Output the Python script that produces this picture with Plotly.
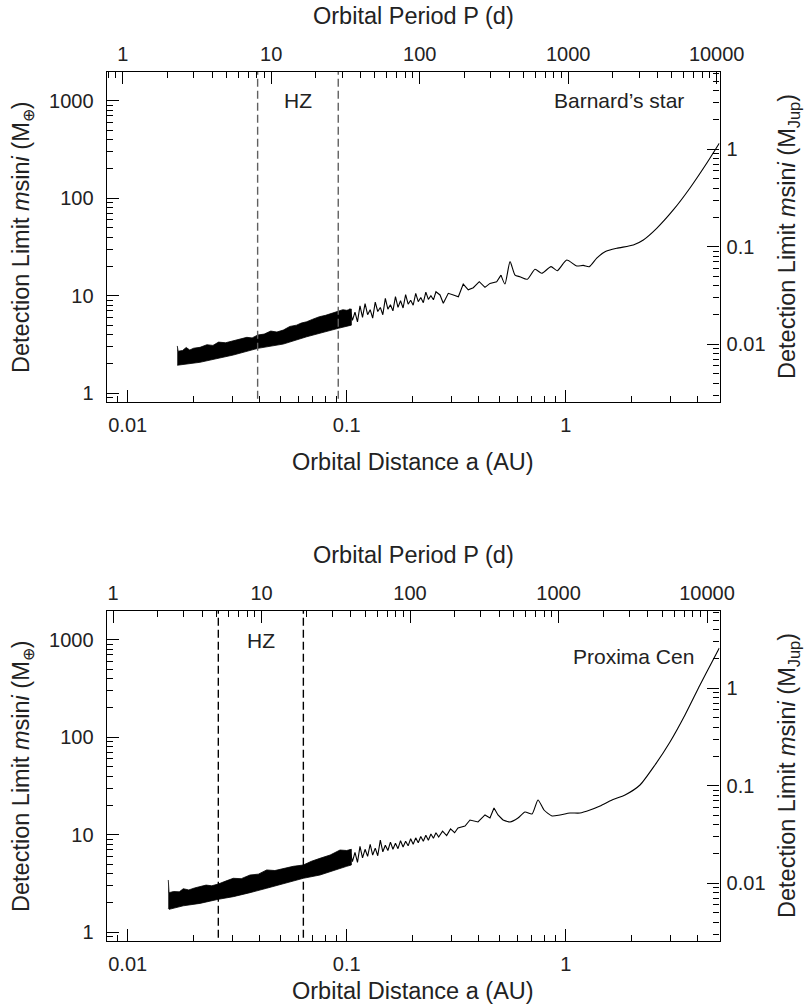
import plotly.graph_objects as go

W, H = 806, 1004

# ---------------- data ----------------
# Barnard's star: dense noisy band (upper / lower envelopes), a in AU, M in Earth masses
BARNARD_BAND_A_UP = [0.01684, 0.01700, 0.01780, 0.01850, 0.01920, 0.02000, 0.02138, 0.02300,
                     0.02450, 0.02600, 0.02800, 0.03035, 0.03250, 0.03500, 0.03700, 0.03924,
                     0.04200, 0.04500, 0.04800, 0.05134, 0.05500, 0.05900, 0.06200, 0.06567,
                     0.07000, 0.07500, 0.08000, 0.08500, 0.09154, 0.09600, 0.10000, 0.10500]
BARNARD_BAND_M_UP = [3.06, 2.70, 2.75, 2.95, 2.78, 2.90, 2.96, 3.15,
                     3.10, 3.35, 3.30, 3.45, 3.55, 3.75, 3.70, 3.96,
                     4.05, 4.35, 4.25, 4.45, 4.85, 5.00, 5.25, 5.42,
                     5.75, 6.10, 6.30, 6.60, 6.87, 7.20, 7.10, 7.30]
BARNARD_BAND_A_LO = [0.01684, 0.01700, 0.02138, 0.03035, 0.03924, 0.05134, 0.06567, 0.09154,
                     0.10000, 0.10500]
BARNARD_BAND_M_LO = [1.94, 1.92, 2.08, 2.47, 2.89, 3.20, 3.80, 4.64, 4.90, 5.00]

BARNARD_LINE_A = [0.098, 0.1007, 0.1034, 0.1062, 0.1091, 0.112, 0.115, 0.1181, 0.1213, 0.1246,
                  0.128, 0.1314, 0.135, 0.1386, 0.1424, 0.1462, 0.1501, 0.1542, 0.1584, 0.1626,
                  0.167, 0.1715, 0.1761, 0.1809, 0.1858, 0.1908, 0.1959, 0.2012, 0.2066, 0.2122,
                  0.2179, 0.2238, 0.2298, 0.236, 0.2424, 0.2489, 0.2556,
                  0.2667, 0.2761, 0.291, 0.307, 0.3235,
                  0.3405, 0.359, 0.3785, 0.403, 0.428, 0.451, 0.484, 0.5065, 0.528, 0.557,
                  0.587, 0.618, 0.668, 0.7244, 0.777, 0.857, 0.915, 1.011, 1.122, 1.203,
                  1.282, 1.386, 1.512, 1.71, 2.036, 2.262, 2.603, 3.099, 3.695, 4.404, 5.028]
BARNARD_LINE_M = [6.2, 5.1, 7.4, 5.6, 6.8, 5.4, 7.9, 6.0, 8.3, 6.4,
                  7.2, 5.9, 8.6, 6.9, 7.6, 6.4, 9.4, 7.3, 8.1, 7.0,
                  9.8, 7.6, 8.9, 7.5, 10.3, 8.2, 9.0, 8.0, 10.6, 8.7,
                  9.6, 8.5, 10.9, 9.2, 10.0, 9.1, 11.0,
                  10.2, 8.38, 10.6, 10.2, 9.79,
                  13.2, 11.5, 12.1, 13.95, 12.2, 13.4, 13.95, 16.3, 13.2, 22.4,
                  16.3, 15.7, 14.8, 18.7, 17.0, 19.9, 18.1, 23.3, 20.2, 20.5,
                  19.9, 24.3, 28.3, 30.7, 33.2, 37.4, 49.2, 75.9, 127.6, 228.5, 366.6]
BARNARD_HZ = [0.0392, 0.0915]

# Proxima Cen
PROXIMA_BAND_A_UP = [0.01532, 0.01545, 0.01620, 0.01720, 0.01794, 0.01900, 0.02020, 0.02138,
                     0.02280, 0.02420, 0.02593, 0.02800, 0.03035, 0.03300, 0.03618, 0.03950,
                     0.04311, 0.04700, 0.05134, 0.05700, 0.06334, 0.06900, 0.07551, 0.08400,
                     0.09320, 0.10000, 0.10500]
PROXIMA_BAND_M_UP = [3.44, 2.55, 2.62, 2.60, 2.80, 2.72, 2.85, 2.94,
                     3.05, 3.00, 3.13, 3.35, 3.58, 3.55, 3.87, 3.95,
                     4.36, 4.30, 4.53, 4.75, 4.90, 5.35, 5.74, 6.20,
                     6.98, 6.90, 7.10]
PROXIMA_BAND_A_LO = [0.01532, 0.01545, 0.01794, 0.02138, 0.02593, 0.03035, 0.03618, 0.04311,
                     0.05134, 0.06334, 0.07551, 0.09320, 0.10000, 0.10500]
PROXIMA_BAND_M_LO = [1.76, 1.72, 1.87, 1.98, 2.18, 2.32, 2.55, 2.83,
                     3.13, 3.58, 3.87, 4.53, 4.75, 4.90]

PROXIMA_LINE_A = [0.098, 0.1007, 0.1034, 0.1062, 0.1091, 0.112, 0.115, 0.1181, 0.1213, 0.1246,
                  0.128, 0.1314, 0.135, 0.1386, 0.1424, 0.1462, 0.1501, 0.1542, 0.1584, 0.1626,
                  0.167, 0.1715, 0.1761, 0.1809, 0.1858, 0.1908, 0.1959, 0.2012, 0.2066, 0.2122,
                  0.2179, 0.2238, 0.2298, 0.236, 0.2424, 0.2489, 0.2556, 0.263, 0.274, 0.286,
                  0.298, 0.311,
                  0.3222, 0.3469, 0.3656, 0.3977, 0.428, 0.4511, 0.4706, 0.4907, 0.5172, 0.5568,
                  0.6056, 0.6518, 0.7018, 0.7473, 0.7961, 0.866, 0.9419, 1.046, 1.162, 1.291,
                  1.435, 1.627, 1.866, 2.184, 2.557, 2.994, 3.505, 4.104, 4.656, 5.028]
PROXIMA_LINE_M = [6.0, 4.9, 7.0, 5.3, 6.6, 5.2, 7.6, 5.8, 7.1, 6.0,
                  8.0, 6.2, 7.3, 6.1, 8.8, 6.7, 7.8, 6.9, 8.4, 7.1,
                  8.2, 7.2, 8.7, 7.5, 8.6, 7.7, 9.1, 8.0, 9.3, 8.3,
                  9.6, 8.6, 9.9, 8.8, 10.2, 9.2, 10.5, 9.5, 10.9, 9.8,
                  11.5, 10.5,
                  11.74, 12.31, 14.18, 13.53, 15.97, 14.87, 18.83, 15.97, 14.18, 13.53,
                  14.87, 17.13, 16.34, 22.75, 17.96, 15.59, 15.97, 16.73, 16.73, 17.96,
                  19.74, 22.75, 25.6, 32.4, 52.0, 89.5, 169.3, 343.9, 592, 824]
PROXIMA_HZ = [0.02593, 0.0634]

# tick labels
A_TICKS = [0.01, 0.1, 1]
A_TICKTEXT = ["0.01", "0.1", "1"]
P_TICKS = [1, 10, 100, 1000, 10000]
P_TICKTEXT = ["1", "10", "100", "1000", "10000"]
ME_TICKS = [1, 10, 100, 1000]
ME_TICKTEXT = ["1", "10", "100", "1000"]
MJ_TICKS = [0.01, 0.1, 1]
MJ_TICKTEXT = ["0.01", "0.1", "1"]

# ---------------- styling / layout ----------------
FONT = "Liberation Sans, Arial, Helvetica, sans-serif"
TXT = "#222222"
TICK_SIZE = 20
TITLE_SIZE = 23.5
SMOOTH_FROM = 0.5  # curve drawn smoothly beyond this distance

A_RANGE = [-2.0959, 0.7023]
ME_RANGE = [-0.086, 3.298]
MJ_RANGE = [ME_RANGE[0] - 2.5022, ME_RANGE[1] - 2.5022]   # 1 M_Jup = 317.8 M_Earth
P_RANGE_TOP = [-0.1077, 4.0189]
P_RANGE_BOT = [-0.0424, 4.084]

X_DOM = [106.7 / W, 719.5 / W]
TOP_DOM = [1 - 401.7 / H, 1 - 71.7 / H]
BOT_DOM = [1 - 940.7 / H, 1 - 610.7 / H]


def minor_vals(e0, e1):
    return [m * 10 ** e for e in range(e0, e1) for m in range(2, 10)]


def axis(rng, tickvals, ticktext, minor, side, **kw):
    d = dict(
        type="log", range=rng, side=side,
        tickmode="array", tickvals=tickvals, ticktext=ticktext,
        ticks="inside", ticklen=12, tickwidth=1, tickcolor="black",
        showline=True, linecolor="black", linewidth=1.2, mirror=False,
        showgrid=False, zeroline=False, automargin=False,
        tickfont=dict(family=FONT, size=TICK_SIZE, color=TXT),
        minor=dict(tickmode="array", tickvals=minor, ticks="inside", ticklen=6,
                   tickwidth=1, tickcolor="black", showgrid=False),
        fixedrange=True,
    )
    d.update(kw)
    return d


fig = go.Figure()


def add_panel(xa, ya, xa2, ya2, band_a_up, band_m_up, band_a_lo, band_m_lo,
              line_a, line_m, hz, hz_color):
    fig.add_trace(go.Scatter(
        x=band_a_up + band_a_lo[::-1], y=band_m_up + band_m_lo[::-1],
        fill="toself", fillcolor="black", mode="lines",
        line=dict(color="black", width=0.8), xaxis=xa, yaxis=ya,
        hoverinfo="skip", showlegend=False))
    k = next(i for i, a in enumerate(line_a) if a >= SMOOTH_FROM)
    fig.add_trace(go.Scatter(
        x=line_a[:k + 1], y=line_m[:k + 1], mode="lines",
        line=dict(color="black", width=1.1),
        xaxis=xa, yaxis=ya, hoverinfo="skip", showlegend=False))
    fig.add_trace(go.Scatter(
        x=line_a[k:], y=line_m[k:], mode="lines",
        line=dict(color="black", width=1.1, shape="spline", smoothing=0.6),
        xaxis=xa, yaxis=ya, hoverinfo="skip", showlegend=False))
    for a in hz:
        fig.add_trace(go.Scatter(
            x=[a, a], y=[0.5, 5000], mode="lines",
            line=dict(color=hz_color, width=1.4, dash="8px,4px"),
            xaxis=xa, yaxis=ya, hoverinfo="skip", showlegend=False))
    fig.add_trace(go.Scatter(x=[10], y=[0.1], mode="markers", marker=dict(opacity=0),
                             xaxis=xa2, yaxis=ya2, hoverinfo="skip", showlegend=False))


add_panel("x", "y", "x2", "y2", BARNARD_BAND_A_UP, BARNARD_BAND_M_UP, BARNARD_BAND_A_LO,
          BARNARD_BAND_M_LO, BARNARD_LINE_A, BARNARD_LINE_M, BARNARD_HZ, "#606060")
add_panel("x3", "y3", "x4", "y4", PROXIMA_BAND_A_UP, PROXIMA_BAND_M_UP, PROXIMA_BAND_A_LO,
          PROXIMA_BAND_M_LO, PROXIMA_LINE_A, PROXIMA_LINE_M, PROXIMA_HZ, "black")

fig.update_layout(
    width=W, height=H,
    margin=dict(l=0, r=0, t=0, b=0),
    paper_bgcolor="white", plot_bgcolor="white",
    showlegend=False,
    xaxis=axis(A_RANGE, A_TICKS, A_TICKTEXT, minor_vals(-3, 1), "bottom",
               domain=X_DOM, anchor="y", ticklabelstandoff=5),
    xaxis2=axis(P_RANGE_TOP, P_TICKS, P_TICKTEXT, minor_vals(-1, 5), "top",
                domain=X_DOM, anchor="y", overlaying="x", ticklabelstandoff=2),
    yaxis=axis(ME_RANGE, ME_TICKS, ME_TICKTEXT, minor_vals(-1, 4), "left",
               domain=TOP_DOM, anchor="x", ticklabelstandoff=8),
    yaxis2=axis(MJ_RANGE, MJ_TICKS, MJ_TICKTEXT, minor_vals(-4, 1), "right",
                domain=TOP_DOM, anchor="x", overlaying="y", ticklabelstandoff=2),
    xaxis3=axis(A_RANGE, A_TICKS, A_TICKTEXT, minor_vals(-3, 1), "bottom",
                domain=X_DOM, anchor="y3", ticklabelstandoff=5),
    xaxis4=axis(P_RANGE_BOT, P_TICKS, P_TICKTEXT, minor_vals(-1, 5), "top",
                domain=X_DOM, anchor="y3", overlaying="x3", ticklabelstandoff=2),
    yaxis3=axis(ME_RANGE, ME_TICKS, ME_TICKTEXT, minor_vals(-1, 4), "left",
                domain=BOT_DOM, anchor="x3", ticklabelstandoff=8),
    yaxis4=axis(MJ_RANGE, MJ_TICKS, MJ_TICKTEXT, minor_vals(-4, 1), "right",
                domain=BOT_DOM, anchor="x3", overlaying="y3", ticklabelstandoff=2),
)


def ann(text, xpx, ypx, size, angle=0, xanchor="center"):
    fig.add_annotation(text=text, xref="paper", yref="paper", x=xpx / W, y=1 - ypx / H,
                       xanchor=xanchor, yanchor="middle", showarrow=False, textangle=angle,
                       font=dict(family=FONT, size=size, color=TXT))


YL = "Detection Limit <i>m</i>sin<i>i</i> (M<sub>⊕</sub>)"
YR = "Detection Limit <i>m</i>sin<i>i</i> (M<sub>Jup</sub>)"
panels = [(0, "Barnard’s star", 686, 100, 462), (539, "Proxima Cen", 696, 656, 991)]
for off, star, sx, sy, xt in panels:
    ann("Orbital Period P (d)", 413, 16 + off, TITLE_SIZE)
    ann("Orbital Distance a (AU)", 413, xt, TITLE_SIZE)
    ann(YL, 22, 237 + off, TITLE_SIZE, angle=-90)
    ann(YR, 788, 237 + off, TITLE_SIZE, angle=-90)
    ann(star, sx, sy, TICK_SIZE + 1, xanchor="right")

ann("HZ", 298, 100, TICK_SIZE + 1)
ann("HZ", 261, 640, TICK_SIZE + 1)

fig.write_html("out.html", config={"displayModeBar": False},
               post_script="document.body.style.margin='0';document.body.style.overflow='hidden';")
